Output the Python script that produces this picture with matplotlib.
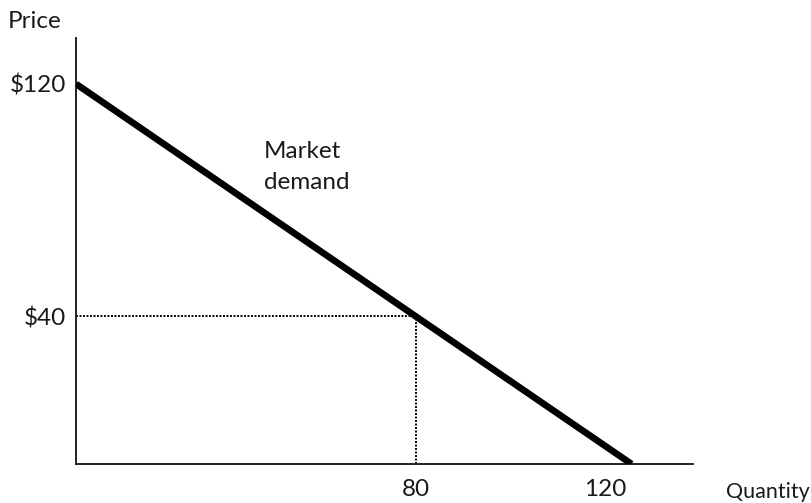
import matplotlib
matplotlib.use("Agg")
import matplotlib.pyplot as plt
from matplotlib.transforms import offset_copy

plt.rcParams["font.family"] = ["Lato", "DejaVu Sans"]

# Demand curve endpoints (quantity, price); P = 120 - Q, run down to the x axis
demand_quantity = [0, 130.75]
demand_price = [120, -10.75]

# Highlighted point on the curve
point_quantity = 80
point_price = 40

price_ticks = [120, 40]
price_labels = ["$120", "$40"]
quantity_ticks = [80, 120]
quantity_labels = ["80", "120"]

FS = 17.5
INK = "#1a1a1a"

fig = plt.figure(figsize=(8.12, 5.03), dpi=100)
ax = fig.add_axes([0.0936, 0.0775, 0.7598, 0.9245 - 0.0775])
ax.set_xlim(0, 145.2)
ax.set_ylim(-10.75, 135.8)

ax.plot(demand_quantity, demand_price, color="black", lw=4.8,
        solid_capstyle="butt", zorder=3)

ax.plot([0, point_quantity], [point_price, point_price], color="black",
        lw=1.4, linestyle=(0, (1, 0.8)), zorder=2)
ax.plot([point_quantity, point_quantity], [-10.75, point_price], color="black",
        lw=1.4, linestyle=(0, (1, 0.8)), zorder=2)

for side in ["top", "right"]:
    ax.spines[side].set_visible(False)
for side in ["left", "bottom"]:
    ax.spines[side].set_linewidth(1.4)
    ax.spines[side].set_color("#222222")

ax.set_yticks(price_ticks)
ax.set_yticklabels(price_labels)
ax.set_xticks(quantity_ticks)
ax.set_xticklabels(quantity_labels)
ax.tick_params(axis="both", length=0, labelsize=FS, colors=INK)
ax.tick_params(axis="y", pad=7)
ax.tick_params(axis="x", pad=11)

# Nudge the "120" label toward the curve's end
lbl = ax.get_xticklabels()[1]
lbl.set_transform(offset_copy(lbl.get_transform(), fig=fig, x=19, y=0, units="dots"))

fig.text(8 / 812, 1 - 22 / 503, "Price", fontsize=FS, color=INK,
         ha="left", va="center")
fig.text(810 / 812, 1 - 492 / 503, "Quantity", fontsize=15.5, color=INK,
         ha="right", va="center")
ax.text(44.2, 91.4, "Market\ndemand", fontsize=FS, color=INK,
        ha="left", va="center", linespacing=1.62)

fig.savefig("out.png", dpi=100)
